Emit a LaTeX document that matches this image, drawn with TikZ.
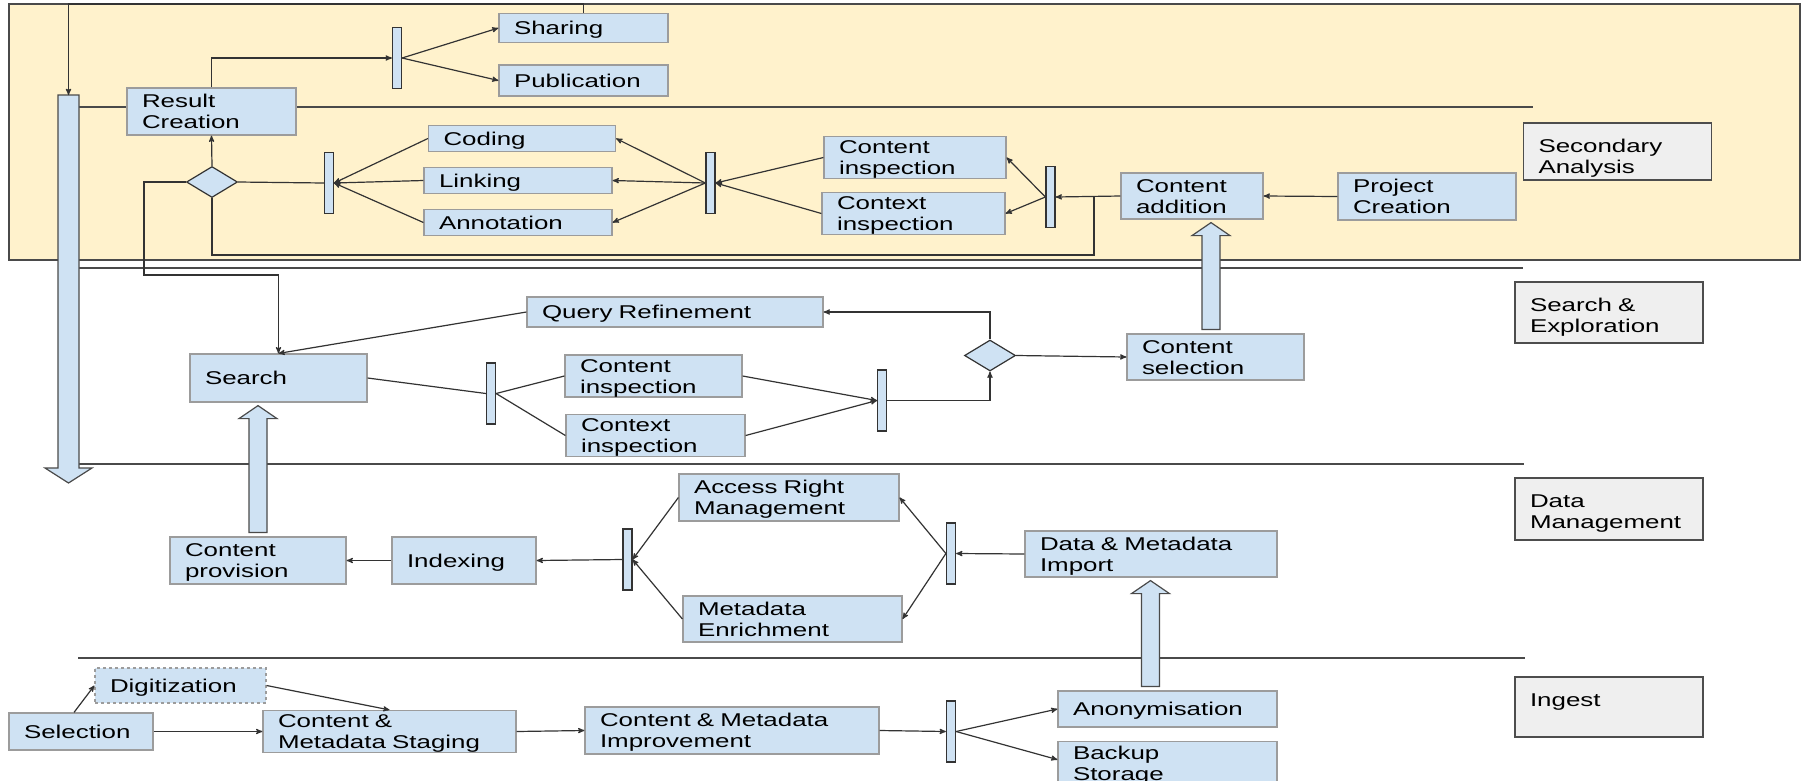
\documentclass[tikz,border=0pt]{standalone}
\usepackage{fontspec}
\setmainfont{Liberation Sans}[FakeStretch=1.4]
\usetikzlibrary{arrows,shapes.geometric,calc,positioning}

\definecolor{boxfill}{HTML}{CFE2F3}
\definecolor{boxline}{HTML}{9C9C9C}
\definecolor{lanefill}{HTML}{FFF2CC}
\definecolor{labfill}{HTML}{EFEFEF}
\definecolor{labline}{HTML}{4D4D4D}
\definecolor{laneline}{HTML}{4A4A4A}
\definecolor{linec}{HTML}{333333}

\newcommand{\gstrut}{\rule[-4pt]{0pt}{21pt}}

% block arrow pointing up: x, from node, to node
\newcommand{\upblock}[3]{%
  \draw[blk] ($(#1,0 |- #2.north)+(-9,-4)$) -- ($(#1,0 |- #3.south)+(-9,16)$)
    -- ($(#1,0 |- #3.south)+(-19,16)$) -- ($(#1,0 |- #3.south)+(0,3)$)
    -- ($(#1,0 |- #3.south)+(19,16)$) -- ($(#1,0 |- #3.south)+(9,16)$)
    -- ($(#1,0 |- #2.north)+(9,-4)$) -- cycle;}

\begin{document}
\begin{tikzpicture}[x=1pt,y=-1pt,>=stealth',line width=1.2pt]
	\tikzstyle{every node}=[font=\fontsize{18.5}{21}\selectfont]
	\tikzstyle{box}=[draw=boxline,fill=boxfill,inner xsep=15pt,inner ysep=0pt,align=left,execute at begin node=\gstrut,execute at end node=\gstrut]
	\tikzstyle{lab}=[draw=labline,fill=labfill,line width=1.5pt,inner xsep=15pt,inner ysep=0pt,align=left,text height=29pt,text width=158pt]
	\tikzstyle{bar}=[draw=linec,fill=boxfill,minimum width=9pt,minimum height=61pt,inner sep=0pt]
	\tikzstyle{dec}=[diamond,draw=linec,fill=boxfill,minimum width=51pt,minimum height=31pt,inner sep=0pt]
	\tikzstyle{con}=[draw=linec]
	\tikzstyle{lane}=[draw=laneline,line width=1.5pt]
	\tikzstyle{blk}=[draw=laneline,fill=boxfill]

	\clip (0,0) rectangle (1802,780);
	\fill[white] (0,0) rectangle (1802,780);

	% lanes
	\draw[draw=laneline,fill=lanefill,line width=1.5pt] (9,4) rectangle (1800,260);
	\draw[lane] (79,107) -- (1533,107);
	\draw[lane] (79,268) -- (1523,268);
	\draw[lane] (79,464) -- (1524,464);
	\draw[lane] (78,658) -- (1525,658);
	\draw[blk] (58,95) -- (58,468) -- (45,468) -- (68.5,483) -- (92,468) -- (79,468) -- (79,95) -- cycle;
	\coordinate (bigtop) at (68.5,95);

	\node[lab,text depth=28pt] (lsec) at (1617.5,151.5) {Secondary\\Analysis};
	\node[lab,text depth=32pt] (lsearch) at (1609,312.5) {Search \&\\Exploration};
	\node[lab,text depth=33pt] (ldata) at (1609,509) {Data\\Management};
	\node[lab,text depth=31pt] (lingest) at (1609,707) {Ingest\\~};

	% secondary analysis
	\node[box,text width=139pt,minimum height=47pt] (rc) at (211.5,111.5) {Result\\Creation};
	\node[bar] (bar0) at (397,58) {};
	\node[box,text width=139pt,minimum height=29pt] (share) at (583.5,28) {Sharing};
	\node[box,text width=139pt,minimum height=31pt] (pub) at (583.5,80.5) {Publication};
	\node[dec] (dec1) at (212,182) {};
	\node[bar] (bar1) at (329,183) {};
	\node[box,text width=157pt,minimum height=26pt] (coding) at (522,138.5) {Coding};
	\node[box,text width=158pt,minimum height=26pt] (linking) at (518,180.5) {Linking};
	\node[box,text width=158pt,minimum height=26pt] (annot) at (518,222.5) {Annotation};
	\node[bar] (bar2) at (710.5,183) {};
	\node[box,text width=152pt,minimum height=41pt] (cins) at (915,157.5) {Content\\inspection};
	\node[box,text width=153pt,minimum height=41pt] (cxins) at (913.5,213.5) {Context\\inspection};
	\node[bar] (bar3) at (1050.5,197) {};
	\node[box,text width=112pt,minimum height=46pt] (cadd) at (1192,196) {Content\\addition};
	\node[box,text width=148pt,minimum height=47pt] (proj) at (1427,196.5) {Project\\Creation};

	% search and exploration
	\node[box,text width=147pt,minimum height=48pt] (search) at (278.5,378) {Search};
	\node[box,text width=266pt,minimum height=30pt] (qr) at (675,312) {Query Refinement};
	\node[bar] (bar4) at (491,393.5) {};
	\node[box,text width=147pt,minimum height=38pt] (ci2) at (653.5,376) {Content\\inspection};
	\node[box,text width=149pt,minimum height=37pt] (cx2) at (655.5,435.5) {Context\\inspection};
	\node[bar] (bar5) at (882,400.5) {};
	\node[dec] (dec2) at (990,355.5) {};
	\node[box,text width=147pt,minimum height=46pt] (csel) at (1215.5,357) {Content\\selection};

	% data management
	\node[box,text width=146pt,minimum height=47pt] (cprov) at (258,560.5) {Content\\provision};
	\node[box,text width=114pt,minimum height=47pt] (idx) at (464,560.5) {Indexing};
	\node[bar] (bar6) at (627.5,559.5) {};
	\node[box,text width=190pt,minimum height=47pt] (arm) at (789,497.5) {Access Right\\Management};
	\node[box,text width=189pt,minimum height=46pt] (menr) at (792.5,619) {Metadata\\Enrichment};
	\node[bar] (bar7) at (951,553.5) {};
	\node[box,text width=222pt,minimum height=46pt] (dmi) at (1151,554) {Data \& Metadata\\Import};

	% ingest
	\node[box,text width=114pt,minimum height=37pt] (sel) at (81,731.5) {Selection};
	\node[box,dashed,text width=141pt,minimum height=35pt] (digi) at (180.5,685.5) {Digitization};
	\node[box,text width=223pt,minimum height=41pt] (cms) at (389.5,731.5) {Content \&\\Metadata Staging};
	\node[box,text width=264pt,minimum height=47pt] (cmi) at (732,730.5) {Content \& Metadata\\Improvement};
	\node[bar] (bar8) at (951,731.5) {};
	\node[box,text width=189pt,minimum height=36pt] (anon) at (1167.5,709) {Anonymisation};
	\node[box,text width=189pt,minimum height=44pt,anchor=north] (backup) at (1167.5,741) {Backup\\Storage};

	% flows in secondary analysis
	\draw[con,->] (share.north) -- ++(0,-9) -| (bigtop);
	\draw[con,->] (rc.north) |- (bar0.west);
	\draw[con,->] (bar0.east) -- (share.west);
	\draw[con,->] (bar0.east) -- (pub.west);
	\draw[con,->] (dec1.north) -- (rc.south);
	\draw[con] (dec1.east) -- (bar1.west);
	\foreach \n in {coding,linking,annot}
	  \draw[con,->] (\n.west) -- (bar1.east);
	\foreach \n in {coding,linking,annot}
	  \draw[con,->] (bar2.west) -- (\n.east);
	\foreach \n in {cins,cxins} {
	  \draw[con,->] (\n.west) -- (bar2.east);
	  \draw[con,->] (bar3.west) -- (\n.east);
	}
	\draw[con,->] (cadd.west) -- (bar3.east);
	\draw[con,->] (proj.west) -- (cadd.east);
	\draw[con] (1094,0 |- cadd.west) -- (1094,255) -| (dec1.south);
	\draw[con,->] (dec1.west) -| (144,275) -| (search.north);

	% flows in search and exploration
	\draw[con,->] (qr.west) -- (search.north);
	\draw[con] (search.east) -- (bar4.west);
	\draw[con] (bar4.east) -- (ci2.west);
	\draw[con] (bar4.east) -- (cx2.west);
	\draw[con,->] (ci2.east) -- (bar5.west);
	\draw[con,->] (cx2.east) -- (bar5.west);
	\draw[con,->] (bar5.east) -| (dec2.south);
	\draw[con,->] (dec2.north) |- (qr.east);
	\draw[con,->] (dec2.east) -- (csel.west);
	\upblock{1211}{csel}{cadd}

	% flows in data management
	\draw[con,->] (dmi.west) -- (bar7.east);
	\draw[con,->] (bar7.west) -- (arm.east);
	\draw[con,->] (bar7.west) -- (menr.east);
	\draw[con,->] (arm.west) -- (bar6.east);
	\draw[con,->] (menr.west) -- (bar6.east);
	\draw[con,->] (bar6.west) -- (idx.east);
	\draw[con,->] (idx.west) -- (cprov.east);
	\upblock{258}{cprov}{search}

	% flows in ingest
	\draw[con,->] ([xshift=-7pt]sel.north) -- (digi.west);
	\draw[con,->] (sel.east) -- (cms.west);
	\draw[con,->] (digi.east) -- (cms.north);
	\draw[con,->] (cms.east) -- (cmi.west);
	\draw[con,->] (cmi.east) -- (bar8.west);
	\draw[con,->] (bar8.east) -- (anon.west);
	\draw[con,->] (bar8.east) -- ([yshift=4pt]backup.west);
	\upblock{1150.5}{anon}{dmi}
\end{tikzpicture}
\end{document}
